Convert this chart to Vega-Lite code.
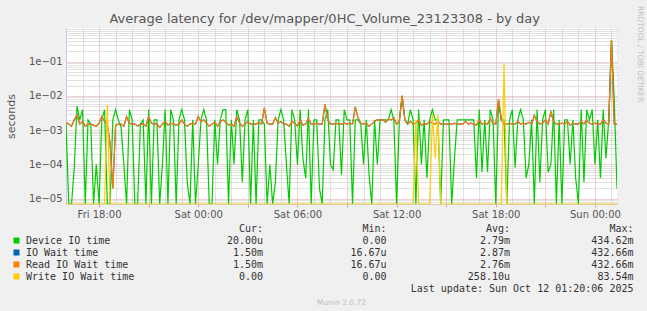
{
"$schema":"https://vega.github.io/schema/vega-lite/v6.json",
"padding":{"left":5,"top":5,"right":8,"bottom":10},
"background":"#f0f0f0",
"bounds":"flush",
"spacing":20,
"title":{"text":"Average latency for /dev/mapper/0HC_Volume_23123308 - by day","anchor":"middle","offset":-20.5,"font":"DejaVu Sans","fontSize":13,"fontWeight":"normal","color":"#555555"},
"config":{"view":{"stroke":null},"font":"DejaVu Sans"},
"datasets":{"lat":[
{"t":"2025-10-10T16:00","d":0.0016,"i":0.0017,"r":0.0017,"w":0},
{"t":"2025-10-10T16:10","d":0,"i":0.0015,"r":0.0015,"w":0},
{"t":"2025-10-10T16:20","d":0,"i":0.0013,"r":0.0013,"w":0},
{"t":"2025-10-10T16:30","d":8e-5,"i":0.002,"r":0.002,"w":0},
{"t":"2025-10-10T16:40","d":0.005,"i":0.0028,"r":0.0028,"w":0},
{"t":"2025-10-10T16:50","d":0.002,"i":0.0015,"r":0.0015,"w":0},
{"t":"2025-10-10T17:00","d":0.004,"i":0.0018,"r":0.0018,"w":0},
{"t":"2025-10-10T17:10","d":0,"i":0.0013,"r":0.0013,"w":0},
{"t":"2025-10-10T17:20","d":0.002,"i":0.0015,"r":0.0015,"w":0},
{"t":"2025-10-10T17:30","d":0.0015,"i":0.0015,"r":0.0015,"w":0},
{"t":"2025-10-10T17:40","d":0,"i":0.0014,"r":0.0014,"w":0},
{"t":"2025-10-10T17:50","d":1e-4,"i":0.0013,"r":0.0013,"w":0},
{"t":"2025-10-10T18:00","d":0,"i":0.0016,"r":0.0016,"w":0},
{"t":"2025-10-10T18:10","d":0.002,"i":0.0025,"r":0.0025,"w":0},
{"t":"2025-10-10T18:20","d":0.004,"i":0.0018,"r":0.0018,"w":0},
{"t":"2025-10-10T18:30","d":0,"i":0.0015,"r":0.0015,"w":0.0055},
{"t":"2025-10-10T18:40","d":0,"i":4e-4,"r":4e-4,"w":0},
{"t":"2025-10-10T18:50","d":0.002,"i":2e-5,"r":2e-5,"w":0},
{"t":"2025-10-10T19:00","d":0.004,"i":0.0014,"r":0.0014,"w":0},
{"t":"2025-10-10T19:10","d":0.002,"i":0.0015,"r":0.0015,"w":0},
{"t":"2025-10-10T19:20","d":0.0012,"i":0.0015,"r":0.0015,"w":0},
{"t":"2025-10-10T19:30","d":1e-4,"i":0.0013,"r":0.0013,"w":0},
{"t":"2025-10-10T19:40","d":0,"i":0.0025,"r":0.0025,"w":0},
{"t":"2025-10-10T19:50","d":0.004,"i":0.0016,"r":0.0016,"w":0},
{"t":"2025-10-10T20:00","d":0.002,"i":0.0015,"r":0.0015,"w":0},
{"t":"2025-10-10T20:10","d":0,"i":0.0015,"r":0.0015,"w":0},
{"t":"2025-10-10T20:20","d":0,"i":0.0013,"r":0.0013,"w":0},
{"t":"2025-10-10T20:30","d":0.0015,"i":0.0015,"r":0.0015,"w":0},
{"t":"2025-10-10T20:40","d":0.002,"i":0.0015,"r":0.0015,"w":0},
{"t":"2025-10-10T20:50","d":0,"i":0.0013,"r":0.0013,"w":0},
{"t":"2025-10-10T21:00","d":0.004,"i":0.0025,"r":0.0025,"w":0},
{"t":"2025-10-10T21:10","d":0,"i":0.0016,"r":0.0016,"w":0},
{"t":"2025-10-10T21:20","d":0.002,"i":0.0015,"r":0.0015,"w":0},
{"t":"2025-10-10T21:30","d":0.002,"i":0.0015,"r":0.0015,"w":0},
{"t":"2025-10-10T21:40","d":0,"i":0.0012,"r":0.0012,"w":0},
{"t":"2025-10-10T21:50","d":1e-4,"i":0.0015,"r":0.0015,"w":0},
{"t":"2025-10-10T22:00","d":0.004,"i":0.0018,"r":0.0018,"w":0},
{"t":"2025-10-10T22:10","d":0,"i":0.0014,"r":0.0014,"w":0},
{"t":"2025-10-10T22:20","d":0.004,"i":0.0016,"r":0.0016,"w":0},
{"t":"2025-10-10T22:30","d":0.002,"i":0.0015,"r":0.0015,"w":0},
{"t":"2025-10-10T22:40","d":0,"i":0.0014,"r":0.0014,"w":0},
{"t":"2025-10-10T22:50","d":0.002,"i":0.0015,"r":0.0015,"w":0},
{"t":"2025-10-10T23:00","d":0.004,"i":0.002,"r":0.002,"w":0},
{"t":"2025-10-10T23:10","d":0.002,"i":0.0015,"r":0.0015,"w":0},
{"t":"2025-10-10T23:20","d":3e-5,"i":0.0013,"r":0.0013,"w":0},
{"t":"2025-10-10T23:30","d":0,"i":0.0015,"r":0.0015,"w":0},
{"t":"2025-10-10T23:40","d":0.002,"i":0.0016,"r":0.0016,"w":0},
{"t":"2025-10-10T23:50","d":0,"i":0.0015,"r":0.0015,"w":0},
{"t":"2025-10-11T00:00","d":1e-4,"i":0.0025,"r":0.0025,"w":0},
{"t":"2025-10-11T00:10","d":0.002,"i":0.0018,"r":0.0018,"w":0},
{"t":"2025-10-11T00:20","d":0.004,"i":0.002,"r":0.002,"w":0},
{"t":"2025-10-11T00:30","d":0.002,"i":0.0016,"r":0.0016,"w":0},
{"t":"2025-10-11T00:40","d":0,"i":0.0013,"r":0.0013,"w":0},
{"t":"2025-10-11T00:50","d":0,"i":0.0015,"r":0.0015,"w":0},
{"t":"2025-10-11T01:00","d":0.002,"i":0.0017,"r":0.0017,"w":0},
{"t":"2025-10-11T01:10","d":1e-4,"i":0.0013,"r":0.0013,"w":0},
{"t":"2025-10-11T01:20","d":0.002,"i":0.0018,"r":0.0018,"w":0},
{"t":"2025-10-11T01:30","d":0.004,"i":0.002,"r":0.002,"w":0},
{"t":"2025-10-11T01:40","d":0.004,"i":0.0017,"r":0.0017,"w":0},
{"t":"2025-10-11T01:50","d":0,"i":0.0014,"r":0.0014,"w":0},
{"t":"2025-10-11T02:00","d":0.002,"i":0.0015,"r":0.0015,"w":0},
{"t":"2025-10-11T02:10","d":1e-4,"i":0.0013,"r":0.0013,"w":0},
{"t":"2025-10-11T02:20","d":0.004,"i":0.0025,"r":0.0025,"w":0},
{"t":"2025-10-11T02:30","d":0.002,"i":0.0016,"r":0.0016,"w":0},
{"t":"2025-10-11T02:40","d":3e-5,"i":0.0013,"r":0.0013,"w":0},
{"t":"2025-10-11T02:50","d":0.002,"i":0.0015,"r":0.0015,"w":0},
{"t":"2025-10-11T03:00","d":0.004,"i":0.0018,"r":0.0018,"w":0},
{"t":"2025-10-11T03:10","d":0,"i":0.0015,"r":0.0015,"w":0},
{"t":"2025-10-11T03:20","d":0.002,"i":0.0015,"r":0.0015,"w":0},
{"t":"2025-10-11T03:30","d":0,"i":0.0015,"r":0.0015,"w":0},
{"t":"2025-10-11T03:40","d":0.002,"i":0.0017,"r":0.0017,"w":0},
{"t":"2025-10-11T03:50","d":0.002,"i":0.0015,"r":0.0015,"w":0},
{"t":"2025-10-11T04:00","d":0.0015,"i":0.0045,"r":0.0045,"w":0},
{"t":"2025-10-11T04:10","d":0,"i":0.0016,"r":0.0016,"w":0},
{"t":"2025-10-11T04:20","d":1e-4,"i":0.0015,"r":0.0015,"w":0},
{"t":"2025-10-11T04:30","d":0,"i":0.0015,"r":0.0015,"w":0},
{"t":"2025-10-11T04:40","d":3e-5,"i":0.0023,"r":0.0023,"w":0},
{"t":"2025-10-11T04:50","d":0.002,"i":0.0016,"r":0.0016,"w":0},
{"t":"2025-10-11T05:00","d":0.004,"i":0.0018,"r":0.0018,"w":0},
{"t":"2025-10-11T05:10","d":0.002,"i":0.0015,"r":0.0015,"w":0},
{"t":"2025-10-11T05:20","d":1e-4,"i":0.0015,"r":0.0015,"w":0},
{"t":"2025-10-11T05:30","d":0,"i":0.0013,"r":0.0013,"w":0},
{"t":"2025-10-11T05:40","d":0.004,"i":0.0018,"r":0.0018,"w":0},
{"t":"2025-10-11T05:50","d":0.002,"i":0.0016,"r":0.0016,"w":0},
{"t":"2025-10-11T06:00","d":1e-4,"i":0.0013,"r":0.0013,"w":0},
{"t":"2025-10-11T06:10","d":0.004,"i":0.002,"r":0.002,"w":0},
{"t":"2025-10-11T06:20","d":1.5e-4,"i":0.0014,"r":0.0014,"w":0},
{"t":"2025-10-11T06:30","d":4e-5,"i":0.0015,"r":0.0015,"w":0},
{"t":"2025-10-11T06:40","d":0.004,"i":0.0022,"r":0.0022,"w":0},
{"t":"2025-10-11T06:50","d":0,"i":0.0015,"r":0.0015,"w":0},
{"t":"2025-10-11T07:00","d":0.002,"i":0.0015,"r":0.0015,"w":0},
{"t":"2025-10-11T07:10","d":0.002,"i":0.0016,"r":0.0016,"w":0},
{"t":"2025-10-11T07:20","d":2e-5,"i":0.0015,"r":0.0015,"w":0},
{"t":"2025-10-11T07:30","d":0,"i":0.0015,"r":0.0015,"w":0},
{"t":"2025-10-11T07:40","d":0.002,"i":0.0057,"r":0.0057,"w":0},
{"t":"2025-10-11T07:50","d":0.004,"i":0.002,"r":0.002,"w":0},
{"t":"2025-10-11T08:00","d":1e-4,"i":0.0015,"r":0.0015,"w":0},
{"t":"2025-10-11T08:10","d":7e-5,"i":0.0015,"r":0.0015,"w":0},
{"t":"2025-10-11T08:20","d":0.002,"i":0.0016,"r":0.0016,"w":0},
{"t":"2025-10-11T08:30","d":0.002,"i":0.0015,"r":0.0015,"w":0},
{"t":"2025-10-11T08:40","d":5e-5,"i":0.0015,"r":0.0015,"w":0},
{"t":"2025-10-11T08:50","d":0.004,"i":0.0016,"r":0.0016,"w":0},
{"t":"2025-10-11T09:00","d":0.002,"i":0.0015,"r":0.0015,"w":0},
{"t":"2025-10-11T09:10","d":0.002,"i":0.0016,"r":0.0016,"w":0},
{"t":"2025-10-11T09:20","d":0,"i":0.0015,"r":0.0015,"w":0},
{"t":"2025-10-11T09:30","d":0.002,"i":0.0048,"r":0.0048,"w":0},
{"t":"2025-10-11T09:40","d":0.002,"i":0.0023,"r":0.0023,"w":0},
{"t":"2025-10-11T09:50","d":0.0015,"i":0.0016,"r":0.0016,"w":0},
{"t":"2025-10-11T10:00","d":1e-4,"i":0.0015,"r":0.0015,"w":0},
{"t":"2025-10-11T10:10","d":0.002,"i":0.0016,"r":0.0016,"w":0},
{"t":"2025-10-11T10:20","d":5e-5,"i":0.0013,"r":0.0013,"w":0},
{"t":"2025-10-11T10:30","d":0,"i":0.0015,"r":0.0015,"w":0},
{"t":"2025-10-11T10:40","d":0.002,"i":0.0018,"r":0.0018,"w":0},
{"t":"2025-10-11T10:50","d":1e-4,"i":0.002,"r":0.002,"w":0},
{"t":"2025-10-11T11:00","d":0.002,"i":0.002,"r":0.002,"w":0},
{"t":"2025-10-11T11:10","d":0.002,"i":0.002,"r":0.002,"w":0},
{"t":"2025-10-11T11:20","d":0.002,"i":0.0017,"r":0.0017,"w":0},
{"t":"2025-10-11T11:30","d":0.002,"i":0.0021,"r":0.0021,"w":0},
{"t":"2025-10-11T11:40","d":0.004,"i":0.002,"r":0.002,"w":0},
{"t":"2025-10-11T11:50","d":0.002,"i":0.0023,"r":0.0023,"w":0},
{"t":"2025-10-11T12:00","d":0,"i":0.0015,"r":0.0015,"w":0},
{"t":"2025-10-11T12:10","d":0.002,"i":0.0018,"r":0.0018,"w":0},
{"t":"2025-10-11T12:20","d":0.01,"i":0.01,"r":0.01,"w":0},
{"t":"2025-10-11T12:30","d":0.002,"i":0.002,"r":0.002,"w":0},
{"t":"2025-10-11T12:40","d":0.0015,"i":0.0015,"r":0.0015,"w":0},
{"t":"2025-10-11T12:50","d":0.004,"i":0.0018,"r":0.0018,"w":0},
{"t":"2025-10-11T13:00","d":0.002,"i":0.0015,"r":0.0015,"w":0},
{"t":"2025-10-11T13:10","d":0,"i":0.0016,"r":0.0016,"w":0.002},
{"t":"2025-10-11T13:20","d":0.004,"i":0.002,"r":0.002,"w":0},
{"t":"2025-10-11T13:30","d":1e-4,"i":0.0014,"r":0.0014,"w":0},
{"t":"2025-10-11T13:40","d":0.002,"i":0.0015,"r":0.0015,"w":0},
{"t":"2025-10-11T13:50","d":4e-5,"i":0.0015,"r":0.0015,"w":0},
{"t":"2025-10-11T14:00","d":0.002,"i":0.0018,"r":0.0018,"w":0},
{"t":"2025-10-11T14:10","d":0.004,"i":0.0016,"r":0.0016,"w":0.003},
{"t":"2025-10-11T14:20","d":0.002,"i":0.0015,"r":0.0015,"w":1.5e-4},
{"t":"2025-10-11T14:30","d":0.002,"i":0.0018,"r":0.0018,"w":0.0028},
{"t":"2025-10-11T14:40","d":0,"i":0.0015,"r":0.0015,"w":0},
{"t":"2025-10-11T14:50","d":0.002,"i":0.0015,"r":0.0015,"w":0},
{"t":"2025-10-11T15:00","d":0.002,"i":0.0015,"r":0.0015,"w":0},
{"t":"2025-10-11T15:10","d":0.002,"i":0.0015,"r":0.0015,"w":0},
{"t":"2025-10-11T15:20","d":0,"i":0.0015,"r":0.0015,"w":0},
{"t":"2025-10-11T15:30","d":1.5e-4,"i":0.0016,"r":0.0016,"w":0},
{"t":"2025-10-11T15:40","d":0.002,"i":0.0015,"r":0.0015,"w":0},
{"t":"2025-10-11T15:50","d":0.002,"i":0.0015,"r":0.0015,"w":0},
{"t":"2025-10-11T16:00","d":0.002,"i":0.0015,"r":0.0015,"w":0},
{"t":"2025-10-11T16:10","d":0.002,"i":0.0018,"r":0.0018,"w":0},
{"t":"2025-10-11T16:20","d":0.002,"i":0.0015,"r":0.0015,"w":0},
{"t":"2025-10-11T16:30","d":0.002,"i":0.0016,"r":0.0016,"w":0},
{"t":"2025-10-11T16:40","d":0.002,"i":0.0015,"r":0.0015,"w":0},
{"t":"2025-10-11T16:50","d":4e-5,"i":0.0014,"r":0.0014,"w":0},
{"t":"2025-10-11T17:00","d":0.004,"i":0.002,"r":0.002,"w":0},
{"t":"2025-10-11T17:10","d":6e-5,"i":0.0015,"r":0.0015,"w":0},
{"t":"2025-10-11T17:20","d":0.002,"i":0.0016,"r":0.0016,"w":0},
{"t":"2025-10-11T17:30","d":6e-5,"i":0.0015,"r":0.0015,"w":0},
{"t":"2025-10-11T17:40","d":0.004,"i":0.0022,"r":0.0022,"w":0},
{"t":"2025-10-11T17:50","d":0.002,"i":0.0016,"r":0.0016,"w":0},
{"t":"2025-10-11T18:00","d":0,"i":0.0015,"r":0.0015,"w":0},
{"t":"2025-10-11T18:10","d":0.007,"i":0.008,"r":0.008,"w":0},
{"t":"2025-10-11T18:20","d":0.002,"i":0.002,"r":0.002,"w":0},
{"t":"2025-10-11T18:30","d":0.002,"i":0.0015,"r":0.0015,"w":0.085},
{"t":"2025-10-11T18:40","d":0,"i":0.0015,"r":0.0015,"w":0},
{"t":"2025-10-11T18:50","d":0.002,"i":0.0016,"r":0.0016,"w":0},
{"t":"2025-10-11T19:00","d":0.004,"i":0.0015,"r":0.0015,"w":0},
{"t":"2025-10-11T19:10","d":8e-5,"i":0.0015,"r":0.0015,"w":0},
{"t":"2025-10-11T19:20","d":0.002,"i":0.0018,"r":0.0018,"w":0},
{"t":"2025-10-11T19:30","d":0.004,"i":0.0015,"r":0.0015,"w":0},
{"t":"2025-10-11T19:40","d":0.002,"i":0.0016,"r":0.0016,"w":0},
{"t":"2025-10-11T19:50","d":4e-5,"i":0.0015,"r":0.0015,"w":0},
{"t":"2025-10-11T20:00","d":1e-4,"i":0.0017,"r":0.0017,"w":0},
{"t":"2025-10-11T20:10","d":0.002,"i":0.0015,"r":0.0015,"w":0},
{"t":"2025-10-11T20:20","d":0,"i":0.0027,"r":0.0027,"w":0},
{"t":"2025-10-11T20:30","d":0.004,"i":0.0018,"r":0.0018,"w":0},
{"t":"2025-10-11T20:40","d":3e-5,"i":0.0015,"r":0.0015,"w":0},
{"t":"2025-10-11T20:50","d":0.002,"i":0.0016,"r":0.0016,"w":0},
{"t":"2025-10-11T21:00","d":0.004,"i":0.002,"r":0.002,"w":0},
{"t":"2025-10-11T21:10","d":6e-5,"i":0.0015,"r":0.0015,"w":0},
{"t":"2025-10-11T21:20","d":1e-4,"i":0.0034,"r":0.0034,"w":0},
{"t":"2025-10-11T21:30","d":0.004,"i":0.0018,"r":0.0018,"w":0},
{"t":"2025-10-11T21:40","d":0,"i":0.0015,"r":0.0015,"w":0},
{"t":"2025-10-11T21:50","d":0.002,"i":0.0015,"r":0.0015,"w":0},
{"t":"2025-10-11T22:00","d":0,"i":0.0016,"r":0.0016,"w":0},
{"t":"2025-10-11T22:10","d":0.002,"i":0.0015,"r":0.0015,"w":0},
{"t":"2025-10-11T22:20","d":0.002,"i":0.0018,"r":0.0018,"w":0},
{"t":"2025-10-11T22:30","d":1e-4,"i":0.0014,"r":0.0014,"w":0},
{"t":"2025-10-11T22:40","d":0.002,"i":0.0016,"r":0.0016,"w":0},
{"t":"2025-10-11T22:50","d":4e-5,"i":0.0015,"r":0.0015,"w":0},
{"t":"2025-10-11T23:00","d":0,"i":0.0015,"r":0.0015,"w":0},
{"t":"2025-10-11T23:10","d":0.004,"i":0.0018,"r":0.0018,"w":0},
{"t":"2025-10-11T23:20","d":3e-5,"i":0.0015,"r":0.0015,"w":0},
{"t":"2025-10-11T23:30","d":0.004,"i":0.002,"r":0.002,"w":0},
{"t":"2025-10-11T23:40","d":0.002,"i":0.0016,"r":0.0016,"w":0},
{"t":"2025-10-11T23:50","d":0.004,"i":0.0015,"r":0.0015,"w":0},
{"t":"2025-10-12T00:00","d":1e-4,"i":0.0016,"r":0.0016,"w":0},
{"t":"2025-10-12T00:10","d":0.002,"i":0.0015,"r":0.0015,"w":0},
{"t":"2025-10-12T00:20","d":4e-5,"i":0.0015,"r":0.0015,"w":0},
{"t":"2025-10-12T00:30","d":0.004,"i":0.002,"r":0.002,"w":0},
{"t":"2025-10-12T00:40","d":1.5e-4,"i":0.0016,"r":0.0016,"w":0},
{"t":"2025-10-12T00:50","d":0.002,"i":0.0015,"r":0.0015,"w":0},
{"t":"2025-10-12T01:00","d":0.43,"i":0.43,"r":0.43,"w":0},
{"t":"2025-10-12T01:10","d":0.008,"i":0.0015,"r":0.0015,"w":0},
{"t":"2025-10-12T01:20","d":2e-5,"i":0.0015,"r":0.0015,"w":0}
]},
"vconcat":[
{
"width":551,"height":176,
"view":{"fill":"white","stroke":null},
"title":{"text":"RRDTOOL / TOBI OETIKER","orient":"right","anchor":"start","dx":-18,"offset":12,"baseline":"middle","fontSize":7.5,"fontWeight":"normal","color":"#c0c0c0","font":"DejaVu Sans"},
"data":{"name":"lat"},
"transform":[{"fold":["d","i","r","w"],"as":["s","v"]}],
"mark":{"type":"line","strokeWidth":1.2,"clip":true},
"encoding":{
"x":{"field":"t","type":"temporal","scale":{"domain":[{"year":2025,"month":10,"date":10,"hours":16},{"year":2025,"month":10,"date":12,"hours":1,"minutes":20}]},
"axis":{"title":null,"tickCount":40,"labelExpr":"hours(datum.value) % 6 == 0 ? timeFormat(datum.value, '%a %H:%M') : ''","labelOverlap":false,"labelFlush":false,"labelBound":false,"labelFontSize":10,"labelColor":"#555555","labelPadding":2,"grid":true,"gridDash":[1,1],"gridColor":{"condition":{"test":"hours(datum.value) % 3 == 0","value":"#e4a0a0"},"value":"#c4c4c4"},"tickSize":3,"tickColor":{"condition":{"test":"hours(datum.value) % 3 == 0","value":"#d8a0a0"},"value":"transparent"},"domainColor":"#d8d0a0"}},
"y":{"field":"v","type":"quantitative","scale":{"type":"log","domain":[7e-6,0.96],"clamp":true},
"axis":{"title":"seconds","values":[7e-6,8e-6,9e-6,1e-5,2e-5,3e-5,4e-5,5e-5,6e-5,7e-5,8e-5,9e-5,1e-4,2e-4,3e-4,4e-4,5e-4,6e-4,7e-4,8e-4,9e-4,1e-3,2e-3,3e-3,4e-3,5e-3,6e-3,7e-3,8e-3,9e-3,1e-2,2e-2,3e-2,4e-2,5e-2,6e-2,7e-2,8e-2,9e-2,0.1,0.2,0.3,0.4,0.5,0.6,0.7,0.8,0.9],"labelExpr":"abs(log(datum.value)/LN10 - round(log(datum.value)/LN10)) < 0.001 ? '1e' + format(round(log(datum.value)/LN10), '03d') : ''","labelOverlap":false,"labelFlush":false,"labelBound":false,"grid":true,"gridDash":[1,1],"gridColor":{"condition":{"test":"abs(log(datum.value)/LN10 - round(log(datum.value)/LN10)) < 0.001","value":"#e4a0a0"},"value":"#c4c4c4"},"ticks":false,"labelPadding":4,"labelFontSize":10,"labelColor":"#555555","titleFontSize":11,"titleFontWeight":"normal","titleColor":"#555555","titlePadding":12,"domainColor":"#c8cce8"}},
"color":{"field":"s","type":"nominal","scale":{"domain":["d","i","r","w"],"range":["#00cc00","#0066b3","#ff8000","#ffcc00"]},"legend":null}
}
},
{
"width":551,"height":72,
"title":{"text":"Munin 2.0.72","orient":"bottom","anchor":"middle","offset":3,"fontSize":7.5,"fontWeight":"normal","color":"#c0c0c0","font":"DejaVu Sans"},
"layer":[
{
"data":{"values":[{"row":"d","name":"Device IO time"},{"row":"i","name":"IO Wait time"},{"row":"r","name":"Read IO Wait time"},{"row":"w","name":"Write IO Wait time"}]},
"layer":[
{"mark":{"type":"square","size":36,"opacity":1,"filled":true},
"encoding":{
"x":{"datum":"sw","type":"ordinal","scale":{"type":"point","padding":0,"domain":["sw","lab"],"range":[-49.5,-40]},"axis":null},
"y":{"field":"row","type":"ordinal","scale":{"type":"point","padding":0,"domain":["hdr","d","i","r","w","upd"],"range":[4.5,64.5]},"axis":null},
"color":{"field":"row","type":"nominal","scale":{"domain":["d","i","r","w"],"range":["#00cc00","#0066b3","#ff8000","#ffcc00"]},"legend":null}}},
{"mark":{"type":"text","align":"left","baseline":"middle","font":"DejaVu Sans Mono","fontSize":10,"color":"#333333"},
"encoding":{
"x":{"datum":"lab","type":"ordinal","scale":{"type":"point","padding":0,"domain":["sw","lab"],"range":[-49.5,-40]},"axis":null},
"y":{"field":"row","type":"ordinal","axis":null},
"text":{"field":"name"}}}
]
},
{
"data":{"values":[
{"row":"hdr","col":"Cur","txt":"Cur:\u00a0\u00a0"},{"row":"hdr","col":"Min","txt":"Min:\u00a0\u00a0"},{"row":"hdr","col":"Avg","txt":"Avg:\u00a0\u00a0"},{"row":"hdr","col":"Max","txt":"Max:\u00a0\u00a0"},
{"row":"d","col":"Cur","txt":"20.00u"},{"row":"d","col":"Min","txt":"0.00\u00a0"},{"row":"d","col":"Avg","txt":"2.79m"},{"row":"d","col":"Max","txt":"434.62m"},
{"row":"i","col":"Cur","txt":"1.50m"},{"row":"i","col":"Min","txt":"16.67u"},{"row":"i","col":"Avg","txt":"2.87m"},{"row":"i","col":"Max","txt":"432.66m"},
{"row":"r","col":"Cur","txt":"1.50m"},{"row":"r","col":"Min","txt":"16.67u"},{"row":"r","col":"Avg","txt":"2.76m"},{"row":"r","col":"Max","txt":"432.66m"},
{"row":"w","col":"Cur","txt":"0.00\u00a0"},{"row":"w","col":"Min","txt":"0.00\u00a0"},{"row":"w","col":"Avg","txt":"258.10u"},{"row":"w","col":"Max","txt":"83.54m"},
{"row":"upd","col":"Max","txt":"Last update: Sun Oct 12 01:20:06 2025"}
]},
"mark":{"type":"text","align":"right","baseline":"middle","font":"DejaVu Sans Mono","fontSize":10,"color":"#333333"},
"encoding":{
"x":{"field":"col","type":"ordinal","scale":{"type":"point","padding":0,"domain":["Cur","Min","Avg","Max"],"range":[197,567.5]},"axis":null},
"y":{"field":"row","type":"ordinal","axis":null},
"text":{"field":"txt"}}
}
],
"resolve":{"scale":{"x":"independent"}}
}
]
}
